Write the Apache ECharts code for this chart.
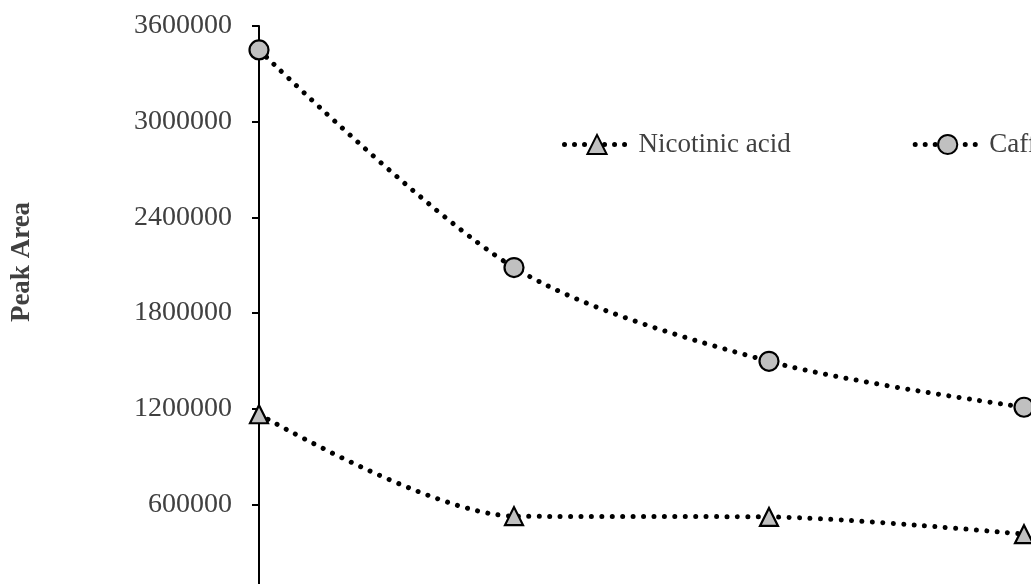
<!DOCTYPE html>
<html>
<head>
<meta charset="utf-8">
<script src="https://cdn.jsdelivr.net/npm/echarts@6/dist/echarts.min.js"></script>
<style>
html,body{margin:0;padding:0;overflow:hidden;background:#fff;width:1031px;height:584px;}
#c{width:1300px;height:700px;position:absolute;left:0;top:0;}
</style>
</head>
<body>
<div id="c"></div>
<script>
const categories = ['1', '2', '3', '4'];
const nicotinicAcid = [1165000, 526000, 521000, 413000];
const caffeine = [3450000, 2085000, 1497000, 1209000];
const yTicks = { min: 0, max: 3600000, interval: 600000 };
const seriesNames = ['Nicotinic acid', 'Caffeine'];
const yTitle = 'Peak Area';

const font = 'Liberation Serif, Times New Roman, serif';
const chart = echarts.init(document.getElementById('c'), null, { renderer: 'canvas' });
const dotted = { color: '#000', width: 5, type: [0.01, 10.4], cap: 'round' };
const sym = { color: '#c0c0c0', borderColor: '#000', borderWidth: 2.2 };

chart.setOption({
  animation: false,
  backgroundColor: '#fff',
  grid: { left: 259, top: 26, width: 765, bottom: 100, containLabel: false },
  legend: {
    left: 562, top: 131, padding: 0,
    itemWidth: 65, itemHeight: 24, itemGap: 122,
    lineStyle: { color: '#000', width: 5, type: [0.01, 10], cap: 'round' },
    textStyle: { fontFamily: font, fontSize: 27, color: '#404040', padding: [0, 0, 0, 4] },
    data: seriesNames
  },
  graphic: [{
    type: 'text', x: 22, y: 262, rotation: Math.PI / 2,
    style: { text: yTitle, font: 'bold 27px ' + font, fill: '#404040', textAlign: 'center', textVerticalAlign: 'middle' }
  }],
  xAxis: {
    type: 'category', data: categories, boundaryGap: false,
    axisLine: { lineStyle: { color: '#000', width: 2 } },
    axisTick: { show: false },
    axisLabel: { fontFamily: font, fontSize: 28, color: '#404040' }
  },
  yAxis: {
    type: 'value', min: yTicks.min, max: yTicks.max, interval: yTicks.interval,
    splitLine: { show: false },
    axisLine: { show: true, lineStyle: { color: '#000', width: 2 } },
    axisTick: { show: true, length: 7, lineStyle: { color: '#000', width: 2 } },
    axisLabel: { fontFamily: font, fontSize: 28, color: '#404040', margin: 27,
      formatter: v => String(v) }
  },
  series: [
    { name: seriesNames[0], type: 'line', data: nicotinicAcid, smooth: 0.3,
      symbol: 'triangle', symbolSize: 18, lineStyle: dotted, itemStyle: sym, z: 3 },
    { name: seriesNames[1], type: 'line', data: caffeine, smooth: 0.3,
      symbol: 'circle', symbolSize: 19, lineStyle: dotted, itemStyle: sym, z: 3 }
  ]
});
</script>
</body>
</html>
